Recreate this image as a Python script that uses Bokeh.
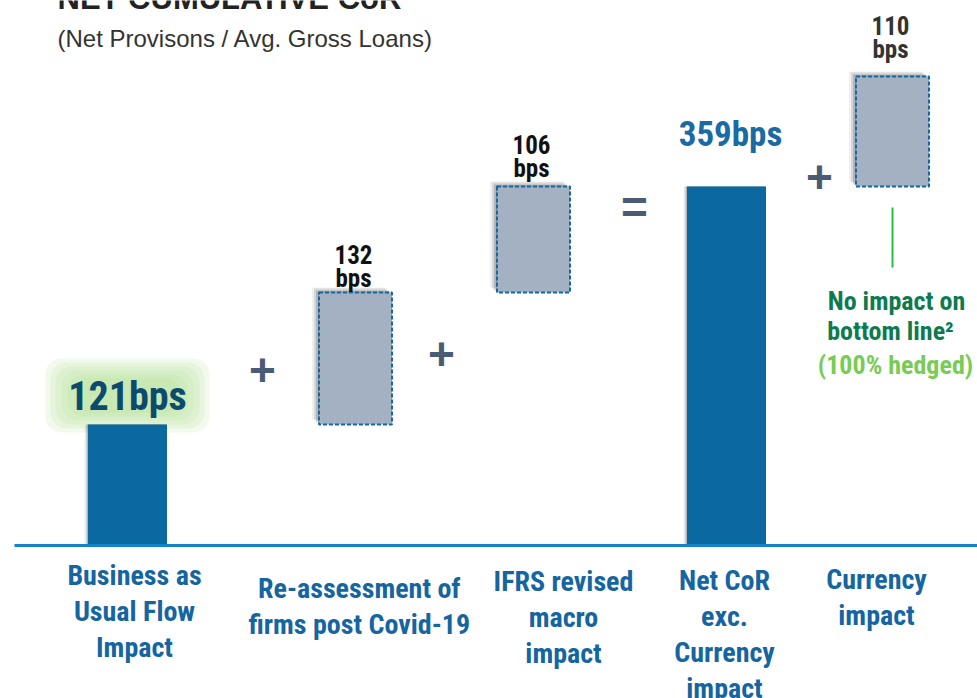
from bokeh.plotting import figure
from bokeh.models import Range1d
from bokeh.core.properties import value
from bokeh.embed import file_html
from bokeh.resources import INLINE

# ---------------- data ----------------
categories = [
    "Business as\nUsual Flow\nImpact",
    "Re-assessment  of\nfirms  post Covid-19",
    "IFRS revised\nmacro\nimpact",
    "Net CoR\nexc.\nCurrency\nimpact",
    "Currency\nimpact",
]
values_bps = [121, 132, 106, 359, 110]
bar_kind = ["total", "step", "step", "total", "step"]
value_labels = ["121bps", "132\nbps", "106\nbps", "359bps", "110\nbps"]
operators = ["+", "+", "=", "+"]
title_text = "NET CUMULATIVE CoR"
subtitle_text = "(Net Provisons / Avg. Gross Loans)"
note_lines = ["No impact on", "bottom line\u00b2", "(100% hedged)"]

# ---------------- layout (1 unit = 1 px) ----------------
bar_centers = [127, 355, 533, 726, 892]
label_centers = [134, 362, 563, 724, 876]
label_first_line = [574, 587, 580, 579, 578]      # px, y down
op_pos = [(262, 369), (441, 353), (634, 206), (819, 176)]
BASE_PX = 545
TOTAL_W = 79
STEP_W = 73

def y_of(py):
    return BASE_PX - py

NARROW = value("Roboto Condensed, Liberation Sans Narrow, DejaVu Sans Condensed, Liberation Sans, sans-serif")
REG = value("Liberation Sans")

# waterfall geometry from the data
bottoms, tops = [], []
running = 0
for v, k in zip(values_bps, bar_kind):
    if k == "total":
        b, t = 0, v
    else:
        b, t = running, running + v
    bottoms.append(b)
    tops.append(t)
    running = t

W, H = 977, 698
p = figure(width=W, height=H, output_backend="svg", toolbar_location=None,
           x_range=Range1d(0, W), y_range=Range1d(y_of(H), y_of(0)),
           min_border=0, outline_line_color=None)
p.axis.visible = False
p.grid.visible = False
p.background_fill_color = "white"
p.border_fill_color = "white"

tot = [i for i, k in enumerate(bar_kind) if k == "total"]
stp = [i for i, k in enumerate(bar_kind) if k == "step"]

# glow behind the first total label
gx, gy = bar_centers[0], tops[0] + 29
for w, h in [(164, 74), (154, 66), (144, 58), (132, 50), (120, 42), (106, 34)]:
    p.rect(x=[gx], y=[gy], width=w, height=h, fill_color="#a6df85",
           fill_alpha=0.15, line_color=None, border_radius=16)

# shadows
for dx, dy, a in [(-7, 5, 0.06), (-5, 4, 0.1), (-3, 2, 0.16), (-1, 1, 0.2)]:
    p.quad(left=[bar_centers[i] - STEP_W / 2 + dx for i in stp],
           right=[bar_centers[i] + STEP_W / 2 + dx for i in stp],
           bottom=[bottoms[i] + dy for i in stp],
           top=[tops[i] + dy for i in stp],
           fill_color="black", fill_alpha=a, line_color=None)
    p.quad(left=[bar_centers[i] - TOTAL_W / 2 + dx / 2 for i in tot],
           right=[bar_centers[i] + TOTAL_W / 2 + dx / 2 for i in tot],
           bottom=[bottoms[i] for i in tot],
           top=[tops[i] for i in tot],
           fill_color="black", fill_alpha=a * 0.8, line_color=None)

# total bars
p.quad(left=[bar_centers[i] - TOTAL_W / 2 for i in tot],
       right=[bar_centers[i] + TOTAL_W / 2 for i in tot],
       bottom=[bottoms[i] for i in tot], top=[tops[i] for i in tot],
       fill_color="#0b68a1", line_color=None)

# step boxes
p.quad(left=[bar_centers[i] - STEP_W / 2 for i in stp],
       right=[bar_centers[i] + STEP_W / 2 for i in stp],
       bottom=[bottoms[i] for i in stp], top=[tops[i] for i in stp],
       fill_color="#a3b1c2", line_color="#1468a3", line_width=2, line_dash="4 2")

# baseline
p.segment(x0=[14], x1=[977], y0=[0], y1=[0], line_color="#1481c8", line_width=3)

# value labels
p.text(x=[bar_centers[0]], y=[tops[0] + 28], text=[value_labels[0]],
       text_font=NARROW, text_font_style="bold", text_font_size="40px",
       text_color="#0c4a6e", text_align="center", text_baseline="middle")
p.text(x=[bar_centers[3] + 4], y=[tops[3] + 52], text=[value_labels[3]],
       text_font=NARROW, text_font_style="bold", text_font_size="35px",
       text_color="#1a6aa3", text_align="center", text_baseline="middle")
step_offsets = {1: -1, 2: 3, 4: 12}
p.text(x=[bar_centers[i] - 2 for i in stp], y=[tops[i] + step_offsets[i] for i in stp],
       text=[value_labels[i] for i in stp],
       text_font=NARROW, text_font_style="bold", text_font_size="25px",
       text_line_height=0.8,
       text_color=["#111111", "#111111", "#333333"], text_align="center",
       text_baseline="bottom")

# operators
p.text(x=[q[0] for q in op_pos], y=[y_of(q[1]) for q in op_pos], text=operators,
       text_font=REG, text_font_style="bold", text_font_size="46px",
       text_color="#4b5b76", text_align="center", text_baseline="middle")

# category labels
p.text(x=label_centers, y=[y_of(v) + 16 for v in label_first_line], text=categories,
       text_font=NARROW, text_font_style="bold", text_font_size="28px",
       text_line_height=1.1, text_color="#1565a0", text_align="center",
       text_baseline="top")

# currency note
p.segment(x0=[bar_centers[4]], x1=[bar_centers[4]],
          y0=[bottoms[4] - 21], y1=[bottoms[4] - 81], line_color="#22c043", line_width=2)
p.text(x=[896, 890, 895], y=[y_of(300), y_of(330), y_of(364)], text=note_lines,
       text_font=NARROW, text_font_style="bold", text_font_size="26px",
       text_color=["#0d7a4f", "#0d7a4f", "#78cc55"], text_align="center",
       text_baseline="middle")

# titles
p.text(x=[57], y=[y_of(-2)], text=[title_text], text_font=REG, text_font_style="bold",
       text_font_size="31px", text_color="#222222", text_align="left",
       text_baseline="alphabetic")
p.text(x=[57], y=[y_of(38)], text=[subtitle_text], text_font=REG,
       text_font_size="24px", text_color="#333333", text_align="left",
       text_baseline="middle")

open("out.html", "w").write(file_html(p, INLINE))
